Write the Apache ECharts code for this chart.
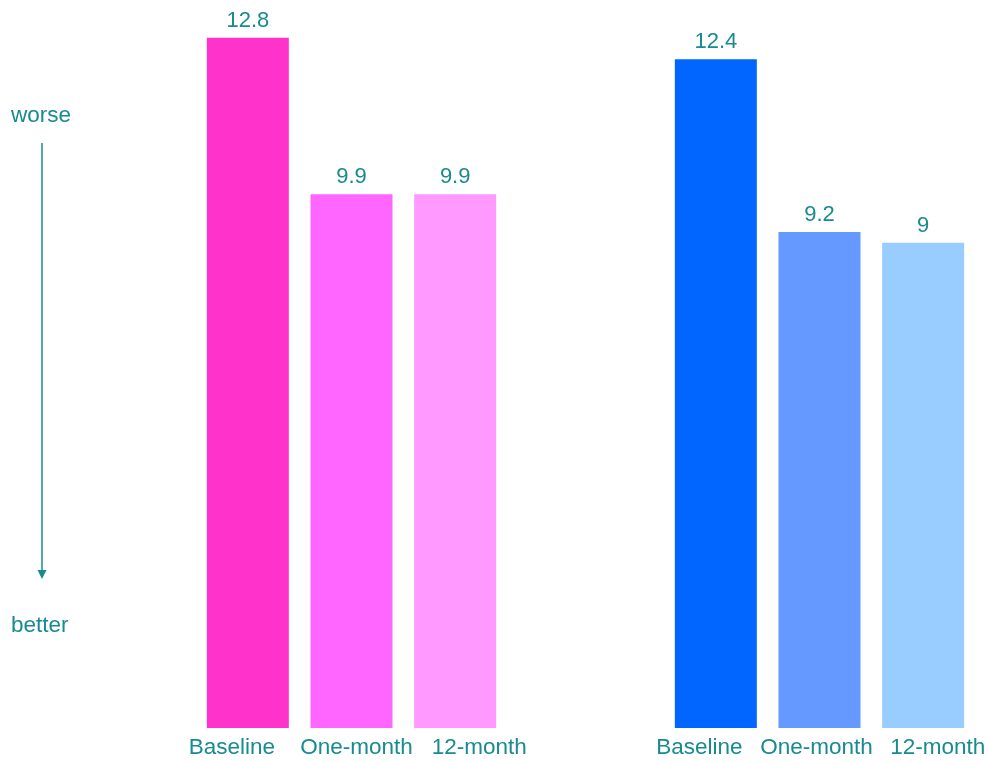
<!DOCTYPE html>
<html>
<head>
<meta charset="utf-8">
<script src="https://cdn.jsdelivr.net/npm/echarts@6/dist/echarts.min.js"></script>
<style>
html,body{margin:0;padding:0;background:#fff;}
#chart{width:989px;height:762px;}
</style>
</head>
<body>
<div id="chart"></div>
<script>
var categories = ['Baseline', 'One-month', '12-month'];
var leftValues = [12.8, 9.9, 9.9];
var rightValues = [12.4, 9.2, 9];
var topLabel = 'worse';
var bottomLabel = 'better';

var leftColors = ['#FF33CC', '#FF66FF', '#FF99FF'];
var rightColors = ['#0066FF', '#6699FF', '#99CCFF'];
var teal = '#178b8f';
var font = 'Liberation Sans, Arial, sans-serif';
var catSize = 22.5;

// horizontal nudges of category labels relative to bar centres (padding: top,right,bottom,left)
var leftPads = [[0, 32, 0, 0], [0, 0, 0, 10], [0, 0, 0, 48]];
var rightPads = [[0, 33, 0, 0], [0, 6, 0, 0], [0, 0, 0, 29]];

function items(vals, colors) {
  return vals.map(function (v, i) { return { value: v, itemStyle: { color: colors[i] } }; });
}
function makeX(gridIndex, pads) {
  var rich = {};
  pads.forEach(function (p, i) {
    rich['p' + i] = { padding: p, color: teal, fontSize: catSize, fontFamily: font };
  });
  return {
    gridIndex: gridIndex,
    type: 'category',
    data: categories,
    axisLine: { show: false },
    axisTick: { show: false },
    axisLabel: {
      color: teal, fontSize: catSize, fontFamily: font, margin: 8, interval: 0,
      formatter: function (v, i) { return '{p' + i + '|' + v + '}'; },
      rich: rich
    }
  };
}

var chart = echarts.init(document.getElementById('chart'));
var yCommon = { type: 'value', min: 0, max: 13, show: false, splitLine: { show: false } };
var labelCommon = { show: true, position: 'top', distance: 6, color: teal, fontSize: 22, fontFamily: font };

chart.setOption({
  backgroundColor: '#fff',
  animation: false,
  grid: [
    { left: 196, width: 311, top: 27, bottom: 34 },
    { left: 664, width: 311, top: 27, bottom: 34 }
  ],
  xAxis: [makeX(0, leftPads), makeX(1, rightPads)],
  yAxis: [
    Object.assign({ gridIndex: 0 }, yCommon),
    Object.assign({ gridIndex: 1 }, yCommon)
  ],
  series: [
    { type: 'bar', xAxisIndex: 0, yAxisIndex: 0, barWidth: 82, data: items(leftValues, leftColors), label: labelCommon },
    { type: 'bar', xAxisIndex: 1, yAxisIndex: 1, barWidth: 82, data: items(rightValues, rightColors), label: labelCommon }
  ],
  graphic: [
    { type: 'text', left: 11, top: 104, style: { text: topLabel, fill: teal, font: '22.5px ' + font } },
    { type: 'text', left: 11, top: 614, style: { text: bottomLabel, fill: teal, font: '22.5px ' + font } },
    { type: 'line', shape: { x1: 42, y1: 143, x2: 42, y2: 572 }, style: { stroke: teal, lineWidth: 1.5 } },
    { type: 'polygon', shape: { points: [[37.5, 570], [46.5, 570], [42, 579]] }, style: { fill: teal } }
  ]
});
</script>
</body>
</html>
